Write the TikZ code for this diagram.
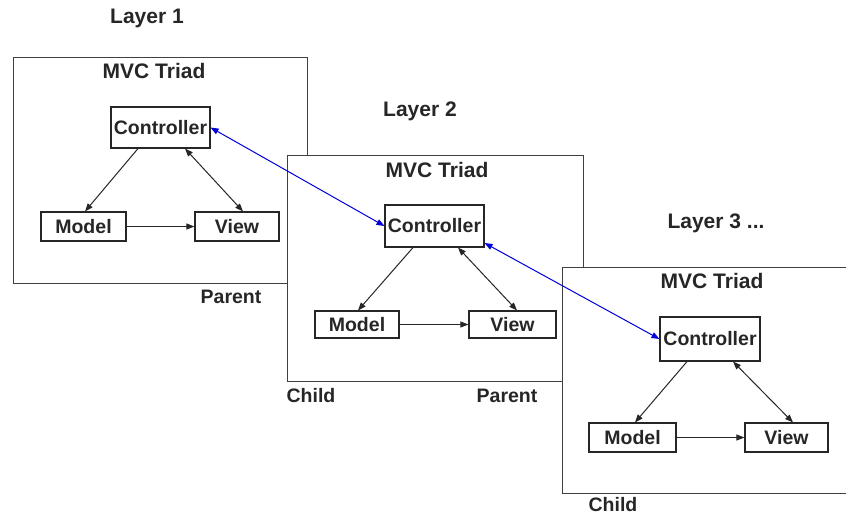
\documentclass[tikz,border=0pt]{standalone}
\usepackage{fontspec}
\setmainfont{Liberation Sans}
\usetikzlibrary{arrows.meta}
\begin{document}
\begin{tikzpicture}[x=1pt,y=-1pt,
  frame/.style={draw=black!75, line width=0.9pt, fill=white, inner sep=0pt, anchor=north west},
  box/.style={draw=black!85, line width=1.1pt, fill=white, inner sep=0pt, font=\bfseries\fontsize{19.5}{22}\selectfont, text=black!85},
  lbl/.style={inner sep=0pt, font=\bfseries\fontsize{19.5}{22}\selectfont, text=black!85},
  ttl/.style={inner sep=0pt, font=\bfseries\fontsize{21}{24}\selectfont, text=black!85},
  arr/.style={draw=black!85, line width=1pt, -{Triangle[length=8pt,width=6pt]}},
  darr/.style={draw=black!85, line width=1pt, {Triangle[length=8pt,width=6pt]}-{Triangle[length=8pt,width=6pt]}},
  barr/.style={draw=blue!85!black, line width=1pt, {Triangle[length=8pt,width=6pt]}-{Triangle[length=8pt,width=6pt]}}
]
\useasboundingbox (0,0) rectangle (846,517);
\clip (0,0) rectangle (846,517);
% Layer 1
\node[ttl] (lay1) at (147,18) {Layer 1};
\node[frame, minimum width=294pt, minimum height=226pt] (f1) at (13,57) {};
\node[ttl] (t1) at (154,71) {MVC Triad};
\node[box, minimum width=99pt, minimum height=41pt] (c1) at (160.5,127.5) {Controller};
\node[box, minimum width=85pt, minimum height=29pt] (m1) at (83.5,226.5) {Model};
\node[box, minimum width=84pt, minimum height=29pt] (v1) at (237,226.5) {View};
\draw[arr] ([xshift=-22.5pt]c1.south) -- ([xshift=1.5pt]m1.north);
\draw[darr] ([xshift=24.5pt]c1.south) -- ([xshift=6pt]v1.north);
\draw[arr] (m1.east) -- (v1.west);
\node[lbl] (p1) at (231,297) {Parent};
% Layer 2
\node[ttl] (lay2) at (420,111) {Layer 2};
\node[frame, minimum width=296pt, minimum height=226pt] (f2) at (287,155) {};
\node[ttl] (t2) at (437,170) {MVC Triad};
\node[box, minimum width=99pt, minimum height=42pt] (c2) at (434.5,226) {Controller};
\node[box, minimum width=84pt, minimum height=27pt] (m2) at (357,324.5) {Model};
\node[box, minimum width=87pt, minimum height=27pt] (v2) at (512.5,324.5) {View};
\draw[arr] ([xshift=-21.5pt]c2.south) -- ([xshift=1pt]m2.north);
\draw[darr] ([xshift=23.5pt]c2.south) -- ([xshift=4.5pt]v2.north);
\draw[arr] (m2.east) -- (v2.west);
\node[lbl] (ch2) at (311,396) {Child};
\node[lbl] (p2) at (507,396) {Parent};
% Layer 3
\node[ttl] (lay3) at (716,223) {Layer 3 ...};
\node[frame, minimum width=290pt, minimum height=226pt] (f3) at (562,267) {};
\node[ttl] (t3) at (712,281) {MVC Triad};
\node[box, minimum width=100pt, minimum height=44pt] (c3) at (710,339) {Controller};
\node[box, minimum width=87pt, minimum height=29pt] (m3) at (632.5,437.5) {Model};
\node[box, minimum width=83pt, minimum height=29pt] (v3) at (786.5,437.5) {View};
\draw[arr] ([xshift=-23pt]c3.south) -- ([xshift=2.5pt]m3.north);
\draw[darr] ([xshift=23pt]c3.south) -- ([xshift=6.5pt]v3.north);
\draw[arr] (m3.east) -- (v3.west);
\node[lbl] (ch3) at (613,505) {Child};
% blue links
\draw[barr] (c1.east) -- (c2.west);
\draw[barr] ([yshift=-17pt]c2.east) -- (c3.west);
\end{tikzpicture}
\end{document}
